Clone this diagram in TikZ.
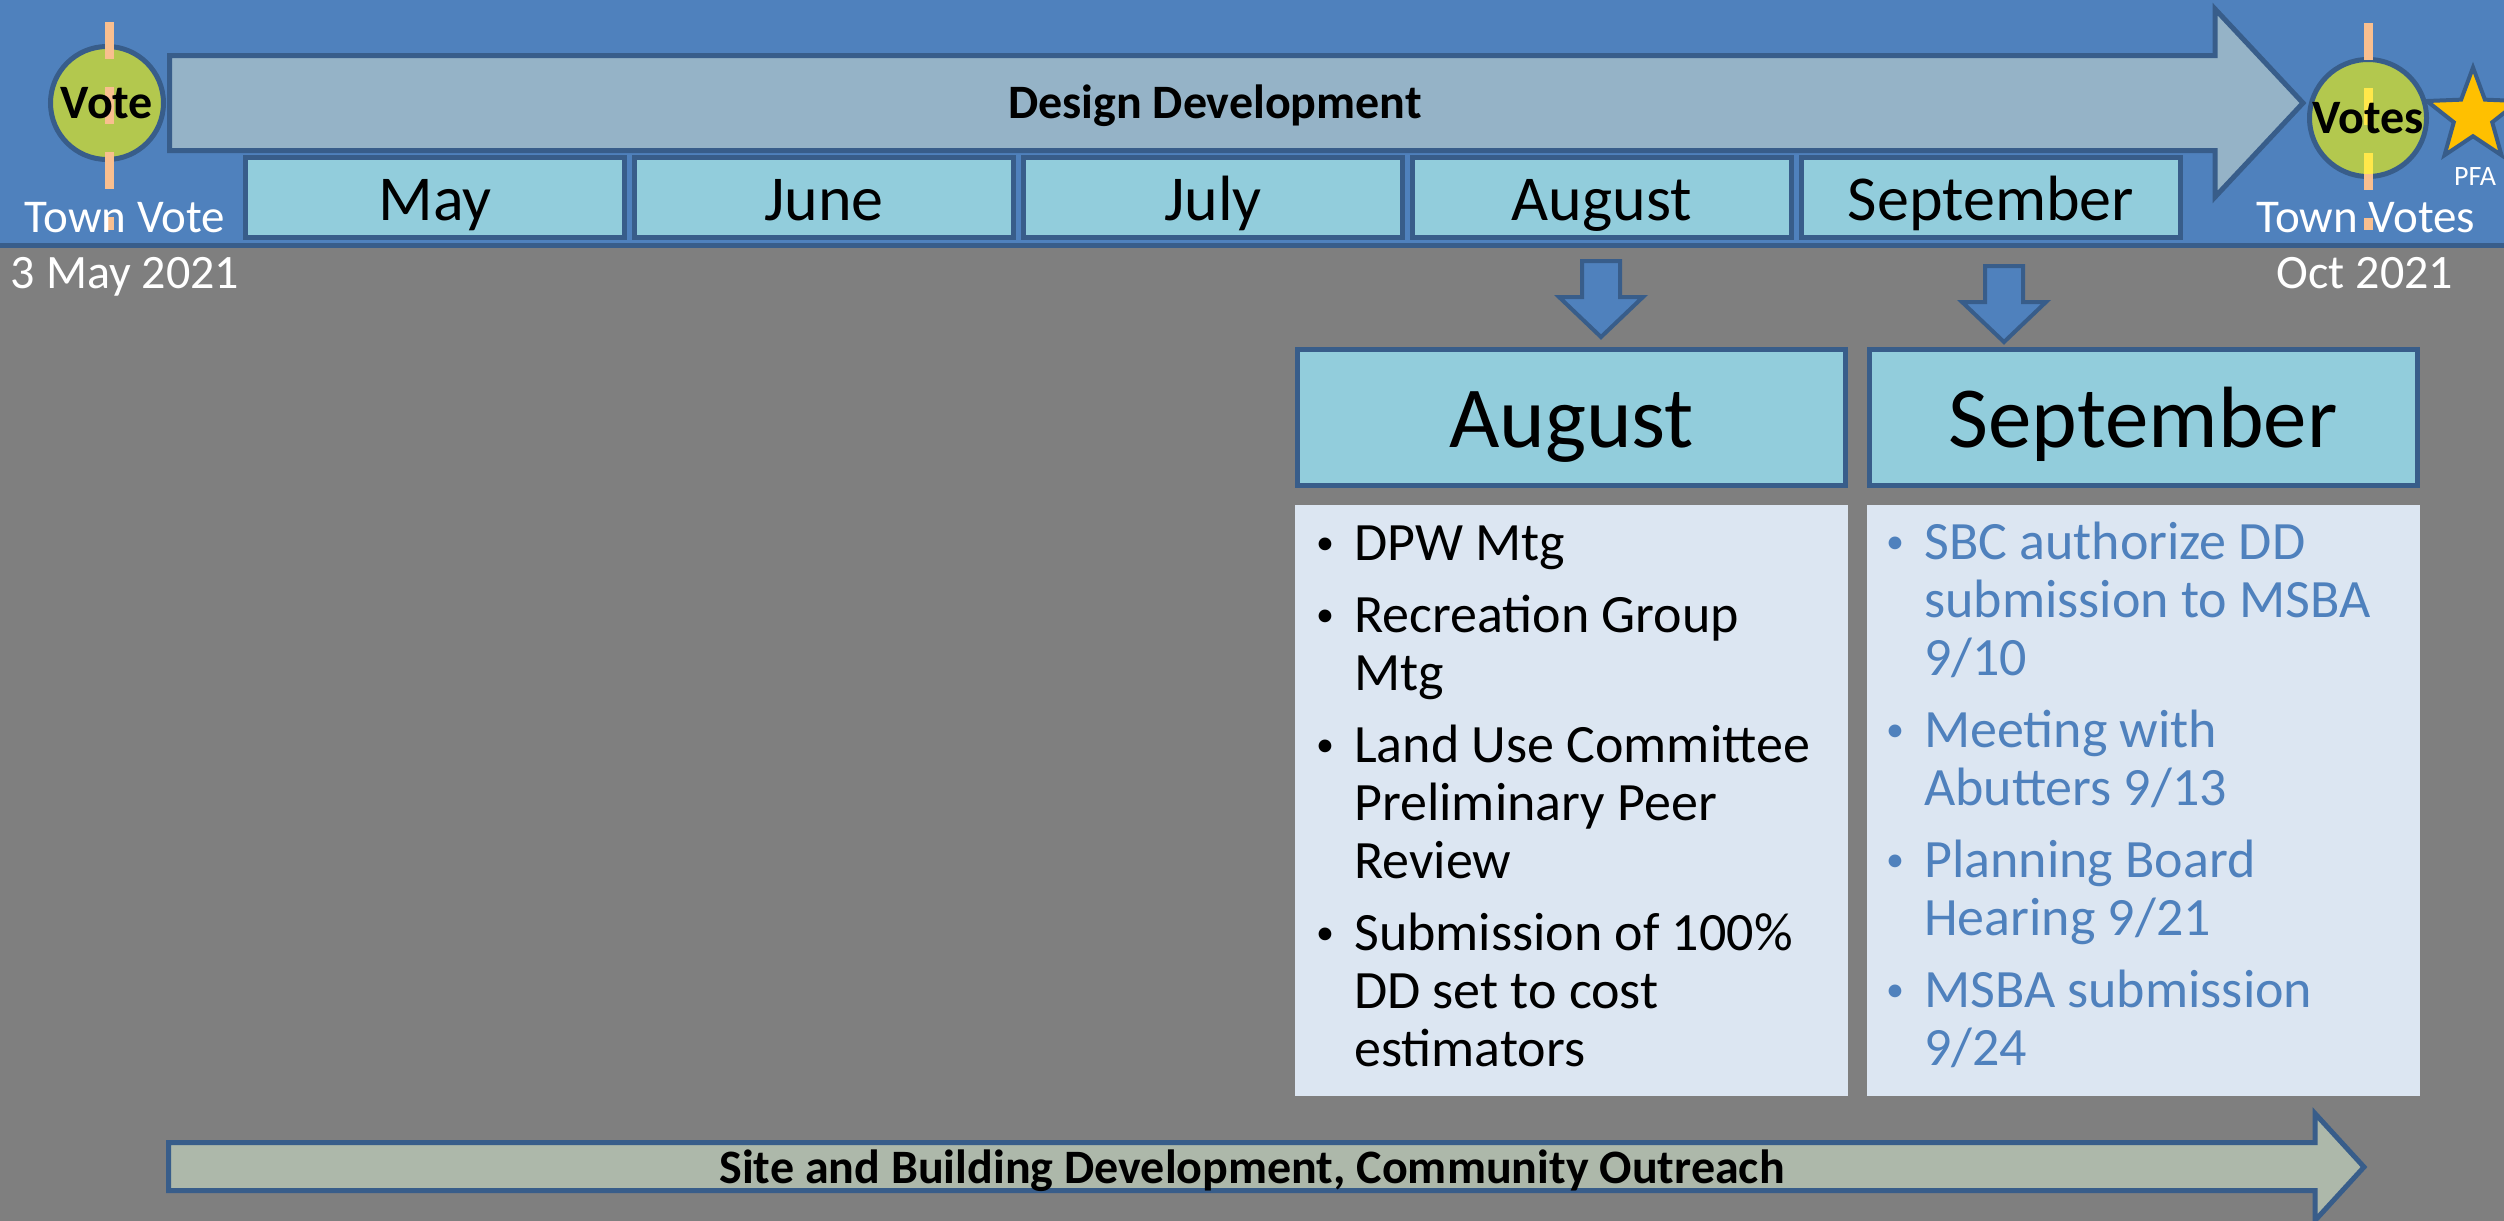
\documentclass[tikz,border=0pt]{standalone}
\usepackage{fontspec}
\setmainfont{Carlito}
\usetikzlibrary{shapes.geometric}
\definecolor{bggray}{HTML}{7F7F7F}
\definecolor{bandblue}{HTML}{4F81BD}
\definecolor{edgeblue}{HTML}{385D8A}
\definecolor{ddfill}{HTML}{95B3C7}
\definecolor{monthfill}{HTML}{92CDDC}
\definecolor{notefill}{HTML}{DCE6F2}
\definecolor{votefill}{HTML}{B3C84E}
\definecolor{votedash}{HTML}{F9BF8F}
\definecolor{voteyellow}{HTML}{FFE84A}
\definecolor{stargold}{HTML}{FFC000}
\definecolor{sitefill}{HTML}{ADB8AA}
\newcommand{\fsz}[2]{\fontsize{#1}{#2}\selectfont}
\newcommand{\bul}{\makebox[38pt][l]{\fsz{36}{58}\raisebox{6pt}{\textbullet}}}
\newcommand{\dropArrow}[2]{\draw[drop] (#1-19,#2) -- (#1+19,#2) -- (#1+19,#2+36) -- (#1+42,#2+36) -- (#1,#2+76) -- (#1-42,#2+36) -- (#1-19,#2+36) -- cycle;}
\begin{document}
\begin{tikzpicture}[x=1pt,y=-1pt,line join=miter]
        \tikzstyle{month}=[rectangle,draw=edgeblue,line width=5pt,fill=monthfill,minimum width=379pt,minimum height=80pt,inner sep=0pt,text height=45pt,text depth=0pt,font=\fsz{64}{70}]
        \tikzstyle{head}=[rectangle,draw=edgeblue,line width=5pt,fill=monthfill,minimum width=548pt,minimum height=136pt,inner sep=0pt,text height=59pt,text depth=0pt,font=\fsz{87}{96}]
        \tikzstyle{notes}=[rectangle,fill=notefill,minimum width=553pt,minimum height=591pt,inner sep=0pt]
        \tikzstyle{vote}=[circle,draw=edgeblue,line width=5pt,fill=votefill,inner sep=0pt]
        \tikzstyle{votemark}=[draw=votedash,line width=9pt,dash pattern=on 37pt off 28pt]
        \tikzstyle{banner}=[draw=edgeblue,line width=5pt]
        \tikzstyle{drop}=[draw=edgeblue,line width=4pt,fill=bandblue]
        \tikzstyle{datetxt}=[text=white,font=\fsz{48}{56},anchor=base,inner sep=0pt]
        \tikzstyle{boldtxt}=[font=\bfseries\fsz{48}{56},anchor=base,inner sep=0pt]
        \tikzstyle{items}=[anchor=base west,inner sep=0pt,font=\fsz{54}{58}]
        \useasboundingbox (0,0) rectangle (2504,1221);
        \fill[bggray] (0,0) rectangle (2504,1221);
        \fill[bandblue] (0,0) rectangle (2504,245);
        \draw[edgeblue,line width=5pt] (0,245.5) -- (2504,245.5);

        % design development arrow
        \draw[banner,fill=ddfill] (169.5,55.5) -- (2215,55.5) -- (2215,9) -- (2303,103) -- (2215,197) -- (2215,150.5) -- (169.5,150.5) -- cycle;
        \node[boldtxt] (dd) at (1215,118) {Design Development};

        \foreach \mname/\mx [count=\i] in {May/435,June/824,July/1213,August/1602,September/1991}
          \node[month] (m\i) at (\mx,197.5) {\mname};

        % votes
        \node[vote,minimum size=113pt] (vote) at (107,103) {};
        \draw[votemark] (109,22) -- (109,230);
        \node[font=\bfseries\fsz{48}{56},inner sep=0pt] (votetxt) at (vote) {Vote};
        \node[vote,minimum size=117pt] (votes) at (2368,118) {};
        \draw[votemark] (2368,23) -- (2368,230);
        \begin{scope}
          \clip (votes.center) circle (56pt);
          \draw[votemark,draw=voteyellow] (2368,23) -- (2368,230);
        \end{scope}
        \node[font=\bfseries\fsz{48}{56},inner sep=0pt] (votestxt) at (votes) {Votes};
        \node[star,star points=5,star point ratio=2.4,minimum size=97pt,fill=stargold,draw=edgeblue,line width=4pt,inner sep=0pt] (pfa) at (2473,116) {};
        \node[datetxt,font=\fsz{28}{34}] (pfatxt) at (2475,185) {PFA};

        \node[datetxt,font=\fsz{47}{56}] (tv) at (125,232) {Town Vote};
        \node[datetxt] (d1) at (125,288) {3 May 2021};
        \node[datetxt,font=\fsz{47}{56}] (tvs) at (2366,232) {Town Votes};
        \node[datetxt] (d2) at (2365,288) {Oct 2021};

        \dropArrow{1601}{261}
        \dropArrow{2004}{266}

        \node[head] (hAug) at (1571.5,417.5) {August};
        \node[head] (hSep) at (2143,417.5) {September};
        \node[notes] (nAug) at (1571.5,800.5) {};
        \node[notes] (nSep) at (2143,800.5) {};

        \node[items] (tAug) at (1316,560) {\begin{tabular}[t]{@{}l@{}l@{}}
          \bul & DPW Mtg\\[14pt]
          \bul & Recreation Group\\ & Mtg\\[14pt]
          \bul & Land Use Committee\\ & Preliminary Peer\\ & Review\\[14pt]
          \bul & Submission of 100\%\\ & DD set to cost\\ & estimators
        \end{tabular}};
        \node[items,text=bandblue] (tSep) at (1886,559) {\begin{tabular}[t]{@{}l@{}l@{}}
          \bul & SBC authorize DD\\ & submission to MSBA\\ & 9/10\\[14pt]
          \bul & Meeting with\\ & Abutters 9/13\\[14pt]
          \bul & Planning Board\\ & Hearing 9/21\\[14pt]
          \bul & MSBA submission\\ & 9/24
        \end{tabular}};

        % site and building arrow
        \draw[banner,fill=sitefill] (168.5,1142.5) -- (2315,1142.5) -- (2315,1113.5) -- (2364,1167) -- (2315,1220.5) -- (2315,1190.5) -- (168.5,1190.5) -- cycle;
        \node[boldtxt] (site) at (1252,1183) {Site and Building Development, Community Outreach};
\end{tikzpicture}
\end{document}
